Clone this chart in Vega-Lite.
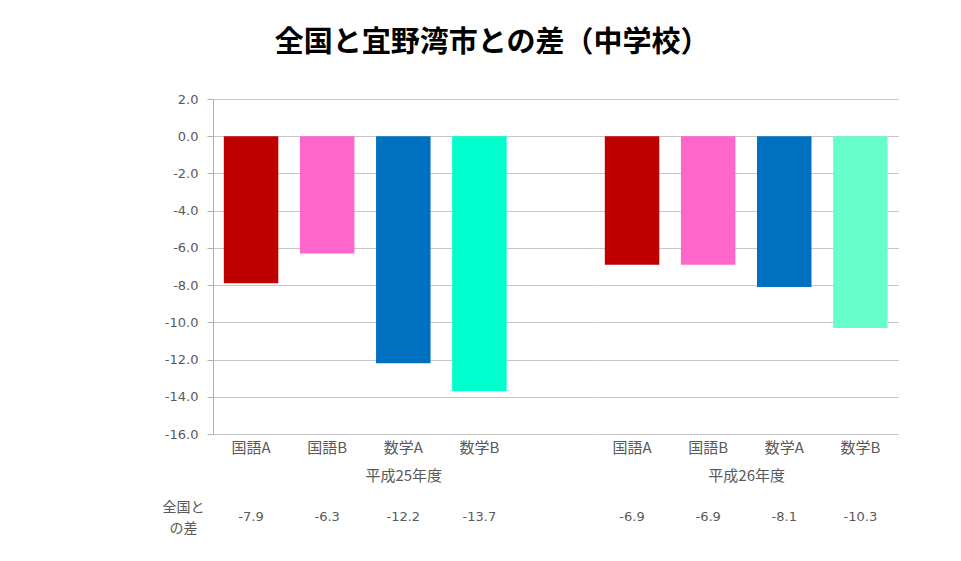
{
  "$schema": "https://vega.github.io/schema/vega-lite/v6.json",
  "padding": {"left": 162, "top": 29, "right": 5, "bottom": 5},
  "background": "white",
  "title": {
    "text": "全国と宜野湾市との差（中学校）",
    "font": "Noto Sans CJK JP",
    "fontSize": 29,
    "fontWeight": "bold",
    "color": "#000000",
    "anchor": "middle",
    "dx": -38,
    "offset": 35
  },
  "config": {
    "view": {"stroke": null},
    "font": "Noto Sans CJK JP",
    "locale": {"number": {"decimal": ".", "thousands": ",", "grouping": [3], "currency": ["$", ""], "minus": "-"}},
    "axis": {
      "labelFont": "DejaVu Sans, Noto Sans CJK JP",
      "labelColor": "#595959",
      "titleColor": "#595959",
      "titleFont": "Noto Sans CJK JP",
      "titleFontWeight": "normal",
      "gridColor": "#c6c6c6",
      "domainColor": "#b0b0b0",
      "tickColor": "#b0b0b0"
    }
  },
  "datasets": {
    "scores": [
      {"year": "平成25年度", "subject": "国語A", "key": "H25国語A", "value": -7.9},
      {"year": "平成25年度", "subject": "国語B", "key": "H25国語B", "value": -6.3},
      {"year": "平成25年度", "subject": "数学A", "key": "H25数学A", "value": -12.2},
      {"year": "平成25年度", "subject": "数学B", "key": "H25数学B", "value": -13.7},
      {"year": "平成26年度", "subject": "国語A", "key": "H26国語A", "value": -6.9},
      {"year": "平成26年度", "subject": "国語B", "key": "H26国語B", "value": -6.9},
      {"year": "平成26年度", "subject": "数学A", "key": "H26数学A", "value": -8.1},
      {"year": "平成26年度", "subject": "数学B", "key": "H26数学B", "value": -10.3}
    ]
  },
  "bounds": "flush",
  "columns": 2,
  "spacing": {"row": 63, "column": 0},
  "resolve": {"scale": {"x": "independent", "y": "independent", "color": "shared"}},
  "concat": [
    {
      "width": 380.6,
      "height": 335,
      "data": {"name": "scores"},
      "transform": [{"filter": "datum.year === '平成25年度'"}],
      "mark": {"type": "bar"},
      "encoding": {
        "x": {
          "field": "key", "type": "nominal",
          "scale": {"domain": ["H25国語A", "H25国語B", "H25数学A", "H25数学B", "H25gap"], "paddingInner": 0.284, "paddingOuter": 0.142},
          "axis": {
            "title": "平成25年度",
            "titleFontSize": 15,
            "titlePadding": 13,
            "labelExpr": "datum.label == 'H25gap' ? '' : substring(datum.label, 3)",
            "labelFont": "Noto Sans CJK JP",
            "labelFontSize": 15,
            "labelAngle": 0,
            "labelPadding": 6,
            "ticks": false,
            "domain": false
          }
        },
        "y": {
          "field": "value", "type": "quantitative",
          "scale": {"domain": [-16, 2], "nice": false, "zero": false},
          "axis": {
            "title": null,
            "values": [2, 0, -2, -4, -6, -8, -10, -12, -14, -16],
            "format": ".1f",
            "labelFontSize": 13,
            "tickSize": 6,
            "labelPadding": 9,
            "grid": true
          }
        },
        "color": {
          "field": "key", "type": "nominal",
          "scale": {
            "domain": ["H25国語A", "H25国語B", "H25数学A", "H25数学B", "H26国語A", "H26国語B", "H26数学A", "H26数学B"],
            "range": ["#C00000", "#FF66CC", "#0070C0", "#00FFCC", "#C00000", "#FF66CC", "#0070C0", "#66FFCC"]
          },
          "legend": null
        }
      }
    },
    {
      "width": 304.4,
      "height": 335,
      "data": {"name": "scores"},
      "transform": [{"filter": "datum.year === '平成26年度'"}],
      "mark": {"type": "bar"},
      "encoding": {
        "x": {
          "field": "key", "type": "nominal",
          "scale": {"domain": ["H26国語A", "H26国語B", "H26数学A", "H26数学B"], "paddingInner": 0.284, "paddingOuter": 0.142},
          "axis": {
            "title": "平成26年度",
            "titleFontSize": 15,
            "titlePadding": 13,
            "labelExpr": "substring(datum.label, 3)",
            "labelFont": "Noto Sans CJK JP",
            "labelFontSize": 15,
            "labelAngle": 0,
            "labelPadding": 6,
            "ticks": false,
            "domain": false
          }
        },
        "y": {
          "field": "value", "type": "quantitative",
          "scale": {"domain": [-16, 2], "nice": false, "zero": false},
          "axis": {
            "title": null,
            "values": [2, 0, -2, -4, -6, -8, -10, -12, -14, -16],
            "labels": false,
            "ticks": false,
            "domain": false,
            "grid": true
          }
        },
        "color": {
          "field": "key", "type": "nominal",
          "scale": {
            "domain": ["H25国語A", "H25国語B", "H25数学A", "H25数学B", "H26国語A", "H26国語B", "H26数学A", "H26数学B"],
            "range": ["#C00000", "#FF66CC", "#0070C0", "#00FFCC", "#C00000", "#FF66CC", "#0070C0", "#66FFCC"]
          },
          "legend": null
        }
      }
    },
    {
      "width": 380.6,
      "height": 40,
      "data": {"name": "scores"},
      "transform": [{"filter": "datum.year === '平成25年度'"}],
      "mark": {"type": "text", "font": "DejaVu Sans", "fontSize": 13, "color": "#595959"},
      "encoding": {
        "x": {
          "field": "key", "type": "nominal",
          "scale": {"domain": ["H25国語A", "H25国語B", "H25数学A", "H25数学B", "H25gap"], "paddingInner": 0.284, "paddingOuter": 0.142},
          "axis": null
        },
        "y": {
          "datum": "全国との差", "type": "nominal",
          "axis": {
            "title": ["全国と", "の差"],
            "titleAngle": 0,
            "titleAlign": "center",
            "titleBaseline": "middle",
            "titleFontSize": 14,
            "titleLineHeight": 21,
            "titleX": -30,
            "titleY": 10,
            "labels": false,
            "ticks": false,
            "domain": false,
            "minExtent": 0,
            "maxExtent": 0
          }
        },
        "text": {"field": "value", "type": "quantitative", "format": ".1f"}
      }
    },
    {
      "width": 304.4,
      "height": 40,
      "data": {"name": "scores"},
      "transform": [{"filter": "datum.year === '平成26年度'"}],
      "mark": {"type": "text", "font": "DejaVu Sans", "fontSize": 13, "color": "#595959"},
      "encoding": {
        "x": {
          "field": "key", "type": "nominal",
          "scale": {"domain": ["H26国語A", "H26国語B", "H26数学A", "H26数学B"], "paddingInner": 0.284, "paddingOuter": 0.142},
          "axis": null
        },
        "y": {"datum": "全国との差", "type": "nominal", "axis": null},
        "text": {"field": "value", "type": "quantitative", "format": ".1f"}
      }
    }
  ]
}
